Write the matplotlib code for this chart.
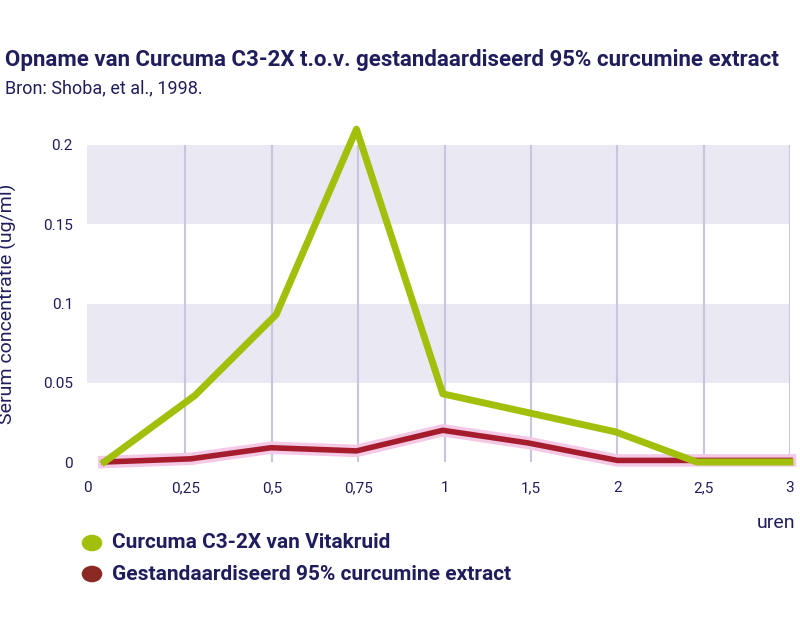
import matplotlib
matplotlib.use("Agg")
import matplotlib.pyplot as plt
import matplotlib.patheffects as pe

plt.rcParams["font.family"] = "Roboto"
tick_pos = [-0.14, 1, 2, 3, 4, 5, 6, 7, 8]
tick_labels = ["0", "0,25", "0,5", "0,75", "1", "1,5", "2", "2,5", "3"]
green_x = [0.06, 1.11, 2.05, 2.98, 3.98, 5.98, 6.92, 8.0]
green_y = [0.0, 0.042, 0.093, 0.21, 0.043, 0.019, 0.0, 0.0]
red_x = [0.06, 1.06, 1.99, 2.98, 3.98, 4.97, 6.0, 7.0, 8.0]
red_y = [0.0, 0.002, 0.009, 0.007, 0.020, 0.012, 0.001, 0.001, 0.001]
navy = "#1f1d5c"

fig = plt.figure(figsize=(8, 6.33), dpi=100)
ax = fig.add_axes([87/800, 1-462/633, 703/800, 317/633])
ax.set_xlim(0, 8)
ax.set_ylim(0, 0.2)
for lo, hi in [(0.05, 0.1), (0.15, 0.2)]:
    ax.axhspan(lo, hi, color="#e9e8f3", zorder=0, lw=0)
for i in range(1, 9):
    ax.axvline(i, color="#c8c5de", lw=1.5, zorder=1)
ax.plot(red_x, red_y, color="#a51c2c", lw=4, zorder=3, clip_on=False,
        path_effects=[pe.Stroke(linewidth=9, foreground="#f3c9e6"), pe.Normal()])
ax.plot(green_x, green_y, color="#a2c00b", lw=5, zorder=4, clip_on=False)
ax.set_xticks(tick_pos)
ax.set_xticklabels(tick_labels)
ax.set_yticks([0, 0.05, 0.1, 0.15, 0.2])
ax.set_yticklabels(["0", "0.05", "0.1", "0.15", "0.2"])
ax.tick_params(length=0, colors=navy, labelsize=11, pad=14)
ax.tick_params(axis="y", pad=10)
for s in ax.spines.values():
    s.set_visible(False)
ax.set_ylabel("Serum concentratie (ug/ml)", color=navy, fontsize=14)
ax.yaxis.set_label_coords(-70/703, 0.5)
fig.text(5/800, 1-60/633, "Opname van Curcuma C3-2X t.o.v. gestandaardiseerd 95% curcumine extract",
         color=navy, fontsize=16, fontweight="bold", va="center")
fig.text(5/800, 1-88/633, "Bron: Shoba, et al., 1998.", color=navy, fontsize=13, va="center")
fig.text(795/800, 1-523/633, "uren", color=navy, fontsize=14, ha="right", va="center")
fig.patches.append(plt.Circle((92/800, 1-543/633), 0.012, transform=fig.transFigure, color="#a2c00b"))
fig.text(112/800, 1-543/633, "Curcuma C3-2X van Vitakruid", color=navy, fontsize=15, fontweight="bold", va="center")
fig.patches.append(plt.Circle((92/800, 1-574/633), 0.012, transform=fig.transFigure, color="#8b2a25"))
fig.text(112/800, 1-574/633, "Gestandaardiseerd 95% curcumine extract", color=navy, fontsize=15, fontweight="bold", va="center")
fig.savefig("out.png", dpi=100)
